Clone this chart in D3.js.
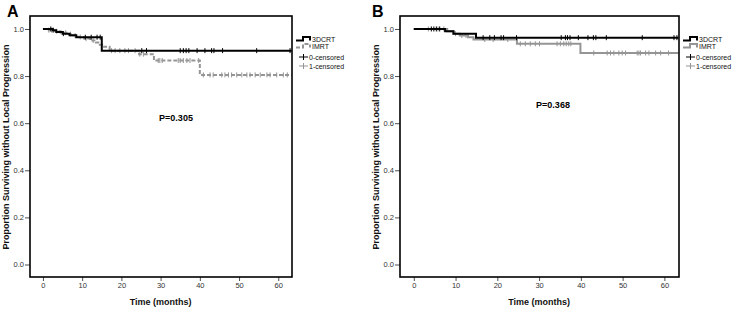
<!DOCTYPE html>
<html><head><meta charset="utf-8">
<script src="https://cdn.jsdelivr.net/npm/d3@7/dist/d3.min.js"></script>
<style>
html,body{margin:0;padding:0;background:#fff;}
svg{display:block;font-family:"Liberation Sans",Arial,sans-serif;}
</style></head>
<body>
<svg id="chart" width="738" height="309"></svg>
<script>
// ---------- DATA ----------
const panelLabels = ["A", "B"];
const seriesNames = ["3DCRT", "IMRT"];
const censorNames = ["0-censored", "1-censored"];
const pValues = ["P=0.305", "P=0.368"];
const xTicks = [0, 10, 20, 30, 40, 50, 60];
const yTicks = [0.0, 0.2, 0.4, 0.6, 0.8, 1.0];
const xTitle = "Time (months)";
const yTitle = "Proportion Surviving without Local Progression";

// Panel A
const timesA3D = [0, 2.5, 3.4, 5, 6.8, 8.5, 15.0];
const survA3D  = [1.0, 0.995, 0.987, 0.98, 0.973, 0.965, 0.908];
const censA3D  = [2, 2.6, 5.2, 10.8, 12.3, 13.8, 14.6, 25.2, 26.4, 35, 35.8, 36.5, 37.2, 39.3, 41.3, 43, 43.6, 45.8, 54.5, 63];
const timesAIM = [0, 1.5, 3, 4.5, 6, 7.5, 9, 10.5, 12, 13.5, 14.5, 15.5, 17, 24.5, 28.3, 40];
const survAIM  = [1.0, 0.995, 0.99, 0.984, 0.978, 0.972, 0.966, 0.959, 0.951, 0.942, 0.933, 0.924, 0.908, 0.893, 0.866, 0.805];
const censAIM  = [1.5, 2.2, 3.5, 5.8, 7, 8.2, 9.5, 11, 12.8, 17.5, 18.4, 19.6, 20.9, 21.8, 23.5, 24.7, 25.6, 29.4, 29.8, 30.4, 34.5, 35, 35.8, 36.7, 37.5, 39.7,
                  40.9, 42.6, 43.4, 45.6, 46.4, 47.3, 48.1, 49.4, 50.7, 52, 52.8, 54.1, 55.4, 57.1, 57.9, 59.6, 61.3, 62.3];

// Panel B
const timesB3D = [0, 7.5, 9.5, 14.9];
const survB3D  = [1.0, 0.99, 0.98, 0.963];
const censB3D  = [4.2, 4.8, 5.4, 6.2, 16.6, 18.2, 19.3, 20.9, 21.5, 24.6, 35.3, 36.3, 36.8, 37.4, 39.4, 41.7, 43, 43.6, 46.1, 54.7, 62.3, 63];
const timesBIM = [0, 8, 9.5, 11, 13, 14.3, 24.7, 39.9];
const survBIM  = [1.0, 0.99, 0.98, 0.972, 0.965, 0.955, 0.937, 0.898];
const censBIM  = [3.5, 5.8, 7.2, 10, 11.5, 12.5, 17, 19, 22.5, 25.5, 26.7, 27.9, 29.1, 30.1, 34.3, 35.1, 35.9, 36.5, 37.1, 37.6,
                  43.1, 46.3, 47.1, 47.9, 49.1, 49.9, 50.7, 53.5, 53.9, 54.3, 55.5, 56.3, 57.9, 59.1, 61];

const xDomain = [-3.3, 63.5];
const yDomain = [-0.053, 1.055];
const endTime = 63.4;

// ---------- DRAW ----------
const svg = d3.select("#chart");
const black = "#000", gray = "#959595";

const panels = [
  {label: panelLabels[0], p: pValues[0], frame: {l: 30, r: 292, t: 16, b: 277}, dashIM: true,
   s3D: {t: timesA3D, s: survA3D, c: censA3D}, sIM: {t: timesAIM, s: survAIM, c: censAIM},
   labelPos: [7, 17], pPos: [176, 121], legX: 296},
  {label: panelLabels[1], p: pValues[1], frame: {l: 400, r: 679, t: 16, b: 277}, dashIM: false,
   s3D: {t: timesB3D, s: survB3D, c: censB3D}, sIM: {t: timesBIM, s: survBIM, c: censBIM},
   labelPos: [372, 17], pPos: [553, 108], legX: 683}
];

function survAt(ser, t) {
  let v = ser.s[0];
  for (let i = 0; i < ser.t.length; i++) if (ser.t[i] <= t) v = ser.s[i];
  return v;
}

panels.forEach(P => {
  const f = P.frame;
  const x = d3.scaleLinear().domain(xDomain).range([f.l, f.r]);
  const y = d3.scaleLinear().domain(yDomain).range([f.b, f.t]);
  const g = svg.append("g");

  // axes
  const ya = g.append("g").attr("transform", `translate(${f.l},0)`)
    .call(d3.axisLeft(y).tickValues(yTicks).tickFormat(d3.format(".1f")).tickSize(5).tickPadding(1));
  const xa = g.append("g").attr("transform", `translate(0,${f.b})`)
    .call(d3.axisBottom(x).tickValues(xTicks).tickFormat(d3.format("d")).tickSize(4).tickPadding(2));
  [ya, xa].forEach(a => {
    a.select(".domain").remove();
    a.selectAll("line").attr("stroke", "#222").attr("stroke-width", 0.8);
    a.selectAll("text").attr("font-size", 7.5).attr("fill", "#333")
      .attr("font-family", "Liberation Sans, Arial, sans-serif");
  });

  // curves
  const line = d3.line().x(d => x(d[0])).y(d => y(d[1])).curve(d3.curveStepAfter);
  const mk = ser => { const pts = ser.t.map((t, i) => [t, ser.s[i]]); pts.push([endTime, ser.s[ser.s.length - 1]]); return pts; };

  // IMRT first (under), then 3DCRT
  g.append("path").attr("d", line(mk(P.sIM))).attr("fill", "none").attr("stroke", gray)
    .attr("stroke-width", 2).attr("stroke-dasharray", P.dashIM ? "4,2" : null);
  g.selectAll(null).data(P.sIM.c).join("line")
    .attr("x1", d => x(d)).attr("x2", d => x(d))
    .attr("y1", d => y(survAt(P.sIM, d)) - 2.5).attr("y2", d => y(survAt(P.sIM, d)) + 2.5)
    .attr("stroke", gray).attr("stroke-width", 1);

  g.append("path").attr("d", line(mk(P.s3D))).attr("fill", "none").attr("stroke", black).attr("stroke-width", 2);
  g.selectAll(null).data(P.s3D.c).join("line")
    .attr("x1", d => x(d)).attr("x2", d => x(d))
    .attr("y1", d => y(survAt(P.s3D, d)) - 2.5).attr("y2", d => y(survAt(P.s3D, d)) + 2.5)
    .attr("stroke", black).attr("stroke-width", 1);

  // frame
  g.append("rect").attr("x", f.l).attr("y", f.t).attr("width", f.r - f.l).attr("height", f.b - f.t)
    .attr("fill", "none").attr("stroke", "#000").attr("stroke-width", 1.6);

  // titles
  g.append("text").attr("x", (x(0) + x(60)) / 2).attr("y", 305).attr("text-anchor", "middle")
    .attr("font-size", 9).attr("font-weight", "bold").attr("fill", "#111").text(xTitle);
  g.append("text").attr("transform", `translate(${f.l - 21},147) rotate(-90)`)
    .attr("text-anchor", "middle").attr("font-size", 9).attr("font-weight", "bold").attr("fill", "#111").text(yTitle);

  // panel label
  svg.append("text").attr("x", P.labelPos[0]).attr("y", P.labelPos[1]).attr("font-size", 16)
    .attr("font-weight", "bold").text(P.label);

  // p value
  g.append("text").attr("x", P.pPos[0]).attr("y", P.pPos[1]).attr("text-anchor", "middle")
    .attr("font-size", 9).attr("font-weight", "bold").text(P.p);

  // legend
  const lx = P.legX;
  const lg = g.append("g").attr("font-size", 7).attr("fill", "#111");
  const stepPath = (x0, yc) => `M${x0},${yc + 1.5} H${x0 + 7} V${yc - 2} H${x0 + 14} V${yc + 1.5}`;
  lg.append("path").attr("d", stepPath(lx, 39)).attr("fill", "none").attr("stroke", black).attr("stroke-width", 2);
  lg.append("text").attr("x", lx + 16).attr("y", 42).text(seriesNames[0]);
  lg.append("path").attr("d", stepPath(lx, 46)).attr("fill", "none").attr("stroke", gray).attr("stroke-width", 2)
    .attr("stroke-dasharray", P.dashIM ? "4,2" : null);
  lg.append("text").attr("x", lx + 16).attr("y", 49).text(seriesNames[1]);
  [[black, 57, censorNames[0]], [gray, 66, censorNames[1]]].forEach(([c, yy, name]) => {
    lg.append("line").attr("x1", lx + 3).attr("x2", lx + 12).attr("y1", yy).attr("y2", yy).attr("stroke", c).attr("stroke-width", 1);
    lg.append("line").attr("x1", lx + 7.5).attr("x2", lx + 7.5).attr("y1", yy - 3).attr("y2", yy + 3).attr("stroke", c).attr("stroke-width", 1);
    lg.append("text").attr("x", lx + 13).attr("y", yy + 2.5).text(name);
  });
});
</script>
</body></html>
